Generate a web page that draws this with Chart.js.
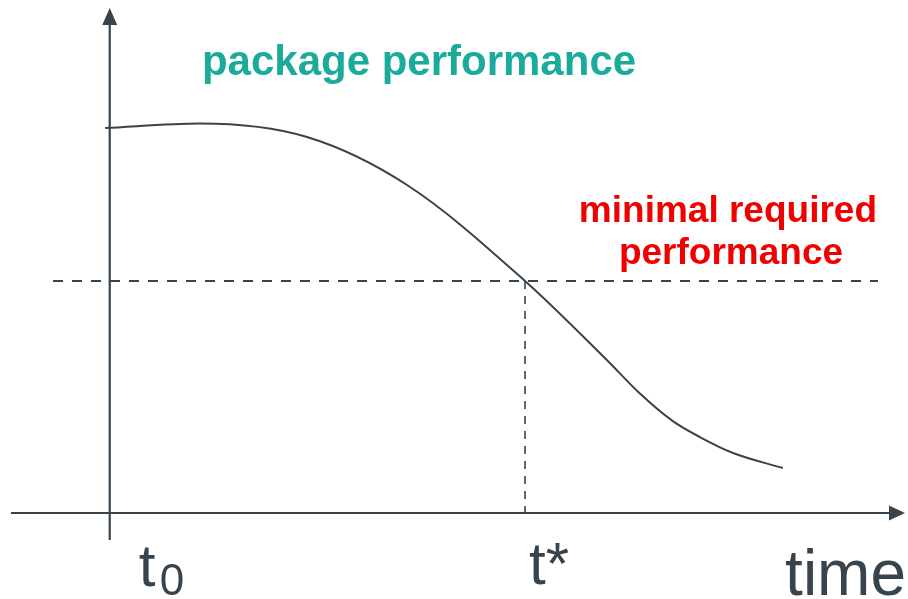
<!DOCTYPE html>
<html>
<head>
<meta charset="utf-8">
<script src="https://cdn.jsdelivr.net/npm/chart.js@4/dist/chart.umd.min.js"></script>
<style>
  html, body { margin: 0; padding: 0; background: #fff; }
  #wrap { width: 908px; height: 599px; }
</style>
</head>
<body>
<div id="wrap"><canvas id="chart" width="908" height="599"></canvas></div>
<script>
// time (t* = 10) and performance (minimum = 50)
const timeValues = [-0.11, 2.17, 4.75, 7.16, 10.0, 11.97, 12.76, 13.56, 14.21, 15.01, 16.21];
const performanceValues = [82.97, 83.94, 81.03, 70.69, 50.0, 32.97, 25.8, 19.8, 16.38, 12.93, 9.70];
const minimalPerformance = 50;
const tStar = 10;

const INK = '#37444e';
const TEAL = '#1aab9b';
const RED = '#f00000';

const axesPlugin = {
  id: 'axes',
  beforeDatasetsDraw(chart) {
    const { ctx } = chart;
    const xs = chart.scales.x;
    const ys = chart.scales.y;
    const x0 = xs.getPixelForValue(0);
    const y0 = ys.getPixelForValue(0);
    const yMin = ys.getPixelForValue(minimalPerformance);
    const xStar = xs.getPixelForValue(tStar);

    ctx.save();
    ctx.strokeStyle = INK;
    ctx.fillStyle = INK;

    // dashed reference lines
    ctx.lineWidth = 2;
    ctx.setLineDash([10, 9]);
    ctx.beginPath();
    ctx.moveTo(53, yMin);
    ctx.lineTo(878, yMin);
    ctx.stroke();
    ctx.lineWidth = 1.6;
    ctx.setLineDash([8, 7]);
    ctx.beginPath();
    ctx.moveTo(xStar, yMin);
    ctx.lineTo(xStar, y0);
    ctx.stroke();
    ctx.setLineDash([]);

    // axes
    ctx.lineWidth = 2.2;
    ctx.beginPath();
    ctx.moveTo(x0, 540);
    ctx.lineTo(x0, 22);
    ctx.moveTo(11, y0);
    ctx.lineTo(892, y0);
    ctx.stroke();

    // arrow heads
    ctx.beginPath();
    ctx.moveTo(x0, 8);
    ctx.lineTo(x0 - 7.5, 25);
    ctx.lineTo(x0 + 7.5, 25);
    ctx.closePath();
    ctx.fill();
    ctx.beginPath();
    ctx.moveTo(905, y0);
    ctx.lineTo(889, y0 - 7.5);
    ctx.lineTo(889, y0 + 7.5);
    ctx.closePath();
    ctx.fill();
    ctx.restore();
  },
  afterDatasetsDraw(chart) {
    const { ctx } = chart;
    const xs = chart.scales.x;
    const xStar = xs.getPixelForValue(tStar);
    const x0 = xs.getPixelForValue(0);
    ctx.save();
    ctx.textBaseline = 'alphabetic';

    ctx.fillStyle = TEAL;
    ctx.font = 'bold 42px "Liberation Sans", Arial, sans-serif';
    ctx.textAlign = 'center';
    ctx.fillText('package performance', 419, 75);

    ctx.fillStyle = RED;
    ctx.font = 'bold 37px "Liberation Sans", Arial, sans-serif';
    ctx.textAlign = 'right';
    ctx.fillText('minimal required', 877, 222);
    ctx.textAlign = 'center';
    ctx.fillText('performance', 731, 264);

    ctx.fillStyle = INK;
    ctx.textAlign = 'left';
    ctx.font = '60px "Liberation Sans", Arial, sans-serif';
    ctx.fillText('t', x0 + 29, 586);
    ctx.font = '44px "Liberation Sans", Arial, sans-serif';
    ctx.fillText('0', x0 + 50, 595);
    ctx.font = '60px "Liberation Sans", Arial, sans-serif';
    ctx.fillText('t*', xStar + 4, 584);
    ctx.font = '64px "Liberation Sans", Arial, sans-serif';
    ctx.textAlign = 'right';
    ctx.fillText('time', 906, 595);
    ctx.restore();
  },
};

new Chart(document.getElementById('chart').getContext('2d'), {
  type: 'line',
  data: {
    datasets: [{
      data: timeValues.map((t, i) => ({ x: t, y: performanceValues[i] })),
      borderColor: INK,
      borderWidth: 2,
      pointRadius: 0,
      cubicInterpolationMode: 'monotone',
      fill: false,
    }],
  },
  options: {
    responsive: false,
    animation: false,
    layout: { padding: 0 },
    plugins: {
      legend: { display: false },
      tooltip: { enabled: false },
    },
    scales: {
      x: { type: 'linear', display: false, min: -2.642, max: 19.222 },
      y: { type: 'linear', display: false, min: -18.53, max: 110.56 },
    },
  },
  plugins: [axesPlugin],
});
</script>
</body>
</html>
